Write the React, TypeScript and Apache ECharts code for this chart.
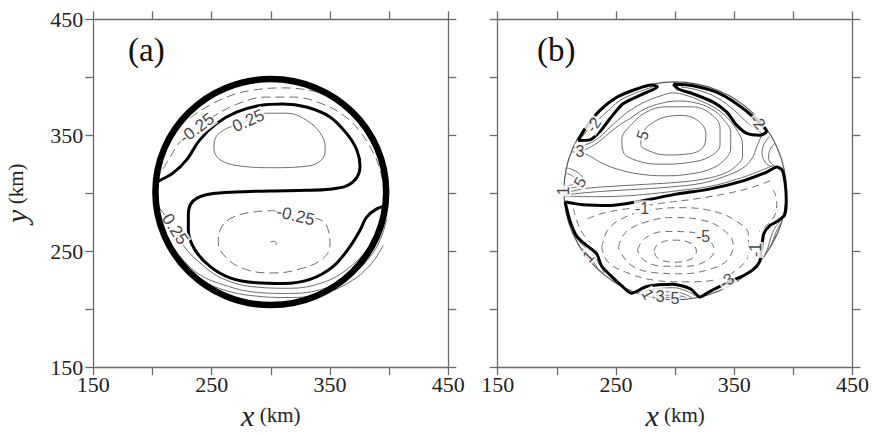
import React, { useEffect, useRef } from 'react';
import * as echarts from 'echarts';

type Pt = [number, number];

// ---------- axes ----------
const AXIS_MIN = 150;
const AXIS_MAX = 450;
const TICK_STEP = 50;
const TICK_LABELS = [150, 250, 350, 450];

// ---------- panel (a) ----------
const aDomain = [300, 301, 97.5]; // centre x, centre y, radius (km)
const aZero: Pt[][] = [
  [[205, 310.5], [217.5, 317.5], [229, 329], [240, 346], [254, 360], [271, 370], [291, 375.7], [310.6, 377], [330, 374.3], [350, 365.8], [364, 351.6], [372.6, 337.5], [375.4, 323.4], [372.6, 313.4], [364, 306.3], [350, 303.5], [330, 302.5], [300, 302], [270, 301], [250, 299.5], [238, 296], [232, 290], [230.3, 281], [230.3, 268], [235.9, 251.1], [248.6, 236.9], [265.5, 227], [288.1, 222.7], [310.6, 222.1], [333.1, 225.6], [352.8, 236.9], [366.9, 253.9], [375.4, 268], [381, 279.4], [389.5, 286.5], [397.9, 289.3]],
];
const aPositive: Pt[][] = [
  [[263, 356], [281, 363], [297, 369], [313, 369], [330, 363], [343, 350], [346, 337.5], [341.5, 327.5], [327.5, 323], [302, 322], [274, 323.5], [257, 329], [252, 339], [254, 349], [263, 356]],
  [[206, 287], [212, 279], [217.7, 269.5], [226, 255], [240, 240], [260, 226], [288, 219], [316, 218], [344, 223], [364, 234], [381, 251], [392, 271], [397, 283]],
  [[222, 247], [238, 231], [260, 221], [288, 214.5], [316, 213.5], [346, 218], [369, 230], [386, 248], [394, 264], [398, 278]],
  [[226, 238], [242, 225], [262, 216], [290, 211], [316, 210], [344, 213.5], [366, 223], [384, 238], [395, 255]],
];
const aNegative: Pt[][] = [
  [[209, 321], [216, 333], [224, 345], [237, 356], [251, 366], [274, 377.8], [296.5, 382.9], [319, 382.9], [341.6, 377.8], [361.3, 367.3], [375.4, 353.1], [386.7, 334.7], [392.3, 320.5], [395, 308]],
  [[232, 365], [245.8, 374.4], [262.7, 382.9], [282.5, 388.5], [310.6, 390.8], [336, 388], [355.7, 381.5], [369.8, 371.5], [381, 358.8], [389.5, 344.6]],
  [[302, 285], [320, 281], [343, 276.6], [348.6, 268], [350, 255.3], [344.4, 244], [327.5, 235.5], [302.1, 231.2], [279.6, 234], [262.7, 244], [255.6, 258.2], [258.5, 270.9], [268.3, 279.4], [285.2, 283.7], [302, 285]],
  [[299.5, 258], [303, 258.5], [304.8, 256.3], [303.2, 254.3]],
];
const aLabelText = ['-0.25', '0.25', '-0.25', '0.25'];
const aLabelPos: Pt[] = [[237.4, 356], [281, 362.5], [321, 280.5], [219, 269]];
const aLabelRot = [37, 24, -13, -57];

// ---------- panel (b) ----------
const bDomain = [300, 302, 94];
const bZero: Pt[][] = [
  [[207, 292.5], [222, 290], [245, 289.3], [273, 293.6], [301, 299.2], [329, 303.5], [357.5, 310.6], [377, 318], [386, 322.5], [390.5, 320], [393, 309], [394, 294], [392.5, 281], [386, 275.5], [380, 272], [375, 265], [373, 251], [371.5, 241], [366, 234], [358, 229], [343.5, 222.5], [328, 214.5], [321, 210.5], [313, 217.5], [298, 221.5], [276, 219.5], [263, 213.7], [255, 220], [247.5, 227], [238, 237], [233.5, 248], [225, 255], [217, 262.5], [211, 276.5], [207, 292.5]],
  [[218, 345.5], [225, 357.3], [236.4, 371.5], [250.6, 382.8], [267.5, 389.9], [280, 393.3], [285, 391.8], [273, 385.7], [256, 377.2], [245, 364.4], [236.4, 353.1], [228, 346], [218, 345.5]],
  [[298.5, 394.2], [315.3, 392.7], [335, 387.1], [352, 377.2], [366, 365.8], [377.3, 353.1], [371.8, 350], [360.6, 351.6], [352, 358.7], [343.5, 370.1], [332.2, 378.6], [315.3, 385.7], [302.7, 389.9], [298.5, 394.2]],
];
const bPositive: Pt[][] = [
  [[276, 357], [289, 365], [306, 367], [320, 362], [326, 351], [324, 340], [312, 334], [293, 333], [278, 336.5], [271, 342], [272, 350], [276, 357]],
  [[262, 358], [274, 369], [292, 374.5], [314, 374.5], [330, 368.5], [338, 356], [338, 342], [330, 332], [312, 326.5], [288, 325], [268, 328], [256, 336], [255, 347], [262, 358]],
  [[219.5, 336], [227, 339], [235, 344], [245, 352.5], [254, 359.5], [262, 364.5], [274, 372.5], [288, 377.5], [302, 379.5], [317, 378], [331, 372.5], [341, 363.5], [347, 352], [347, 339], [341, 328], [329, 320.5], [312, 316.5], [292, 315], [270, 316.5], [252, 320.5], [238, 326], [228, 332], [219.5, 336]],
  [[219.5, 336], [212.5, 335.5]],
  [[213, 339], [220, 341], [228, 343.2], [236, 348.2], [245, 357], [254, 365], [262, 371.5], [275, 379], [288, 384], [298, 386.5], [309, 384.5], [322, 379.5], [336, 372], [346, 363], [353, 353], [357, 343], [357, 332], [351, 323], [339, 316], [320, 311.5], [297, 309], [272, 307.5], [248, 306], [228, 304.5], [214, 302], [207, 299.5]],
  [[373, 349.5], [369, 340], [365, 330], [357, 321.5], [342, 314.5], [322, 308.5], [297, 305.5], [270, 303.5], [245, 302], [225, 300.5], [207, 298.5]],
  [[207, 297.5], [230, 297], [255, 297.5], [280, 299.5], [305, 302.5], [330, 306], [352, 312], [370, 318.5], [384, 324.5]],
  [[207.5, 322], [214, 320], [220, 316], [222.5, 311], [219, 306.5], [212, 304.5], [207.5, 304]],
  [[208.5, 317], [213, 315], [216, 311], [213.5, 307.5], [208.5, 306.5]],
  [[221, 348], [230, 359], [240.5, 368.5], [253.5, 380], [270, 387.7], [281, 391.5]],
  [[305, 391.5], [320, 388.8], [336, 382], [350, 371.5], [362, 360], [373, 352]],
  [[384, 343], [380, 337], [379, 330], [383, 324]],
  [[380, 349], [375.5, 343], [373.5, 335], [376, 327], [381, 323]],
  [[268, 214], [282, 217], [298, 218.5], [310, 215.5], [317, 211.5]],
  [[273, 212.5], [286, 214.5], [299, 215], [309, 212.5], [314, 210]],
  [[279, 211], [290, 212], [300, 212], [309, 210.2]],
  [[285, 209.6], [296, 210.2], [305, 209.6]],
  [[240, 231], [236, 239], [231, 246], [224, 253], [218.5, 259]],
  [[236, 232.5], [231.5, 240], [227, 246.5], [221.5, 252.5]],
  [[389, 276], [384.5, 270], [381, 262], [378.5, 253], [375, 245]],
  [[390, 275], [386, 268], [383, 260], [380, 252.5]],
];
const bNegative: Pt[][] = [
  [[282, 250], [286, 256.5], [300, 259.5], [314, 256.5], [318, 250], [314, 243.5], [300, 240.5], [286, 243.5], [282, 250]],
  [[268, 251], [275, 261.5], [292, 267], [312, 266.5], [326, 261.5], [333, 251], [326, 241.5], [309, 237], [290, 237], [274, 242], [268, 251]],
  [[252, 253], [258, 266], [275, 275], [298, 279], [322, 277], [340, 269], [349, 256], [344, 242], [328, 234], [305, 230.5], [282, 231.5], [262, 238.5], [252, 253]],
  [[238, 253], [243, 268], [257, 279], [280, 285.5], [305, 287.5], [330, 285], [350, 277], [362, 264], [362, 248], [352, 234], [333, 225], [308, 223.5], [282, 225], [258, 232], [243, 241], [238, 253]],
  [[226, 278], [240, 283], [262, 287], [290, 291.5], [320, 295.5], [345, 300], [365, 305], [381, 311]],
  [[383, 303], [386, 293], [385, 283], [379, 274], [371, 267]],
  [[214, 287], [217, 276], [222, 265], [229, 257]],
];
const bLabelText = ['5', '3', '5', '1', '-1', '-5', '-2', '-2', '1', '-1', '-3', '1', '3', '5'];
const bLabelPos: Pt[] = [[272.5, 350], [219.5, 336], [219.5, 309.5], [205.5, 302], [272, 287], [323.7, 263], [231, 359], [370, 361.5], [226.5, 245.4], [368, 251], [343.5, 224.5], [277, 213], [287.5, 211.2], [299.8, 208.8]];
const bLabelRot = [70, 0, 60, 90, 0, 0, 55, -50, 45, 90, 35, -60, 0, 0];

// ---------- styles ----------
const AX = '#6a6a6a';
const SERIF = '"Liberation Serif","Times New Roman",serif';
const SANS = '"Liberation Sans",Arial,sans-serif';
const THIN = '#6c6c6c';

function tickFmt(v: number) {
  return TICK_LABELS.includes(v) ? String(v) : '';
}

const nameRich = {
  i: { fontFamily: SERIF, fontStyle: 'italic', fontSize: 30, color: '#222' },
  k: { fontFamily: SERIF, fontSize: 21, color: '#222' },
};

function xAxis(gridIndex: number, position: 'top' | 'bottom') {
  const bottom = position === 'bottom';
  return {
    type: 'value', gridIndex, min: AXIS_MIN, max: AXIS_MAX, interval: TICK_STEP, position,
    axisLine: { show: true, onZero: false, lineStyle: { color: AX, width: 1.3 } },
    axisTick: { show: true, inside: false, length: 8, lineStyle: { color: AX, width: 1.3 } },
    axisLabel: { show: bottom, margin: 6, fontFamily: SERIF, fontSize: 22, color: '#222', formatter: tickFmt, showMinLabel: true, showMaxLabel: true },
    splitLine: { show: false },
    name: bottom ? '{i|x} {k|(km)}' : '',
    nameLocation: 'middle', nameGap: 25,
    nameTextStyle: { fontFamily: SERIF, fontSize: 21, color: '#222', rich: nameRich },
  };
}

function yAxis(gridIndex: number, position: 'left' | 'right', labels: boolean) {
  return {
    type: 'value', gridIndex, min: AXIS_MIN, max: AXIS_MAX, interval: TICK_STEP, position,
    axisLine: { show: true, onZero: false, lineStyle: { color: AX, width: 1.3 } },
    axisTick: { show: true, inside: false, length: 8, lineStyle: { color: AX, width: 1.3 } },
    axisLabel: { show: labels, margin: 10, fontFamily: SERIF, fontSize: 22, color: '#222', formatter: tickFmt, showMinLabel: true, showMaxLabel: true },
    splitLine: { show: false },
    name: labels ? '{i|y} {k|(km)}' : '',
    nameLocation: 'middle', nameGap: 62,
    nameTextStyle: { fontFamily: SERIF, fontSize: 21, color: '#222', rich: nameRich },
  };
}

function lines(data: Pt[][], axis: number, lineStyle: any, z: number, smooth = 0.4) {
  return data.map((pts) => ({
    type: 'line', xAxisIndex: axis, yAxisIndex: axis, data: pts, showSymbol: false, symbol: 'none',
    smooth, silent: true, z, lineStyle, clip: false,
  }));
}

function ring(c: number[], axis: number, color: string, width: number, z: number) {
  return {
    type: 'custom', xAxisIndex: axis, yAxisIndex: axis, data: [c], silent: true, z, clip: false,
    renderItem: (_p: any, api: any) => {
      const p = api.coord([api.value(0), api.value(1)]);
      const s = api.size([api.value(2), api.value(2)]);
      return {
        type: 'ellipse',
        shape: { cx: p[0], cy: p[1], rx: s[0], ry: s[1] },
        style: { fill: 'none', stroke: color, lineWidth: width },
      };
    },
  };
}

function labels(text: string[], pos: Pt[], rot: number[], axis: number, z: number, size: number) {
  return {
    type: 'scatter', xAxisIndex: axis, yAxisIndex: axis, silent: true, z, symbolSize: 1,
    itemStyle: { color: 'rgba(0,0,0,0)' },
    label: {
      show: true, position: 'inside', formatter: (p: any) => p.name,
      fontFamily: SANS, fontSize: size, color: '#111', backgroundColor: '#fff', padding: [0, 1],
    },
    data: text.map((t, i) => ({ name: t, value: pos[i], label: { rotate: rot[i] } })),
  };
}

const option = {
  animation: false,
  backgroundColor: '#fff',
  grid: [
    { left: 93.3, top: 19.3, width: 355, height: 353 },
    { left: 497.7, top: 19.3, width: 355, height: 353 },
  ],
  xAxis: [xAxis(0, 'bottom'), xAxis(0, 'top'), xAxis(1, 'bottom'), xAxis(1, 'top')],
  yAxis: [yAxis(0, 'left', true), yAxis(0, 'right', false), yAxis(1, 'left', false), yAxis(1, 'right', false)],
  graphic: [
    { type: 'text', left: 128, top: 33, style: { text: '(a)', font: `33px ${SERIF}`, fill: '#111' } },
    { type: 'text', left: 537, top: 33, style: { text: '(b)', font: `33px ${SERIF}`, fill: '#111' } },
  ],
  series: [
    ...lines(aPositive, 0, { color: THIN, width: 1 }, 2),
    ...lines(aNegative, 0, { color: THIN, width: 1, type: [9, 5] }, 2),
    ...lines(aZero, 0, { color: '#000', width: 3 }, 3, 0.35),
    labels(aLabelText, aLabelPos, aLabelRot, 0, 5, 17),
    ring(aDomain, 0, '#000', 6.5, 6),

    ring(bDomain, 2, '#555', 1.2, 2),
    ...lines(bPositive, 2, { color: THIN, width: 1 }, 2),
    ...lines(bNegative, 2, { color: THIN, width: 1, type: [7, 5] }, 2),
    ...lines(bZero, 2, { color: '#000', width: 3 }, 3, 0.25),
    labels(bLabelText, bLabelPos, bLabelRot, 2, 5, 16),
  ],
};

export default function App() {
  const ref = useRef<HTMLDivElement>(null);
  useEffect(() => {
    const chart = echarts.init(ref.current!, null, { renderer: 'svg' });
    chart.setOption(option as any);
    return () => chart.dispose();
  }, []);
  return (
    <div
      ref={ref}
      style={{ position: 'fixed', left: 0, top: 0, width: 872, height: 435, background: '#fff' }}
    />
  );
}
